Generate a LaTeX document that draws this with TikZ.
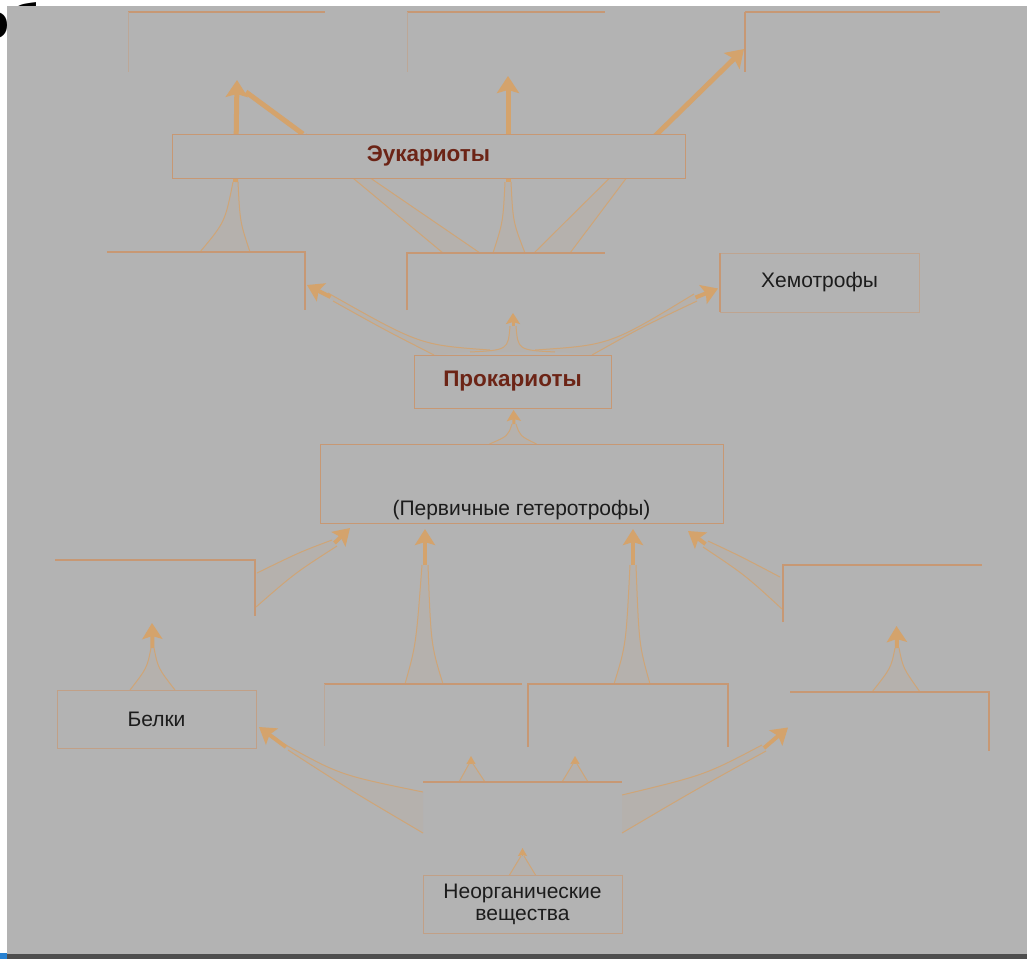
\documentclass[tikz,border=0pt]{standalone}
\usepackage{fontspec}
\setmainfont{Liberation Sans}
\usetikzlibrary{arrows.meta,calc}
\definecolor{bg}{RGB}{179,179,179}
\definecolor{boxc}{RGB}{199,152,116}
\definecolor{arrc}{RGB}{212,163,108}
\definecolor{titc}{RGB}{108,36,22}
\definecolor{txtc}{RGB}{28,28,28}
\definecolor{barc}{RGB}{78,78,78}
\definecolor{bluec}{RGB}{40,130,210}
\pgfdeclarelayer{back}
\pgfdeclarelayer{arrows}
\pgfsetlayers{back,arrows,main}
\newcommand{\warrow}[8]{%
  \fill[wfill] #2 .. controls #3 .. #4 -- #7 .. controls #6 .. #5 -- cycle;
  \draw[wedge] #2 .. controls #3 .. #4;
  \draw[wedge] #5 .. controls #6 .. #7;
  \draw[#1] ($#4!0.5!#7$) -- #8;
}
\begin{document}
\begin{tikzpicture}[x=1pt,y=-1pt,
  slot/.style={inner sep=0pt, outer sep=0pt},
  fullbox/.style={slot, draw=boxc, line width=1pt},
  edgeS/.style={draw=boxc, line width=1.1pt},
  edgeF/.style={draw=boxc!45!bg, line width=1pt},
  lbl/.style={inner sep=0pt, text=txtc, font=\fontsize{21}{24}\selectfont},
  ttl/.style={text=titc, font=\fontsize{22.5}{25}\selectfont\bfseries},
  wfill/.style={fill=arrc, fill opacity=0.07},
  wedge/.style={draw=arrc!85!bg, line width=1pt},
  bigarr/.style={draw=arrc, line width=5pt, -{Stealth[length=17pt,width=22pt,inset=3pt]}},
  midarr/.style={draw=arrc, line width=4pt, -{Stealth[length=16pt,width=20pt,inset=3pt]}},
  smallarr/.style={draw=arrc, line width=3pt, -{Stealth[length=11pt,width=14pt,inset=2pt]}},
  tinyarr/.style={draw=arrc, line width=1.5pt, -{Stealth[length=8pt,width=9pt,inset=1pt]}},
  stemonly/.style={draw=arrc, line width=5pt}
]
\useasboundingbox (0,0) rectangle (1027,959);

\begin{pgfonlayer}{back}
  \fill[white] (0,0) rectangle (1027,959);
  \node[anchor=base west, inner sep=0pt, font=\fontsize{49}{49}\selectfont\bfseries] (frag) at (-21,38) {об};
  \fill[bg] (7,6) rectangle (1027,954);
  \fill[barc] (7,954) rectangle (1027,959);
  \fill[bluec] (0,953) rectangle (7,959);
\end{pgfonlayer}

% ---- boxes ----
\node[slot, minimum width=197pt, minimum height=60pt] (tl) at (226.5,42) {};
\draw[edgeS] (tl.north west) -- (tl.north east);
\draw[edgeF] (tl.north west) -- (tl.south west);
\node[slot, minimum width=198pt, minimum height=60pt] (tm) at (506,42) {};
\draw[edgeS] (tm.north west) -- (tm.north east);
\draw[edgeF] (tm.north west) -- (tm.south west);
\node[slot, minimum width=195pt, minimum height=60pt] (tr) at (842.5,42) {};
\draw[edgeS] (tr.north west) -- (tr.north east);
\draw[edgeS] (tr.north west) -- (tr.south west);

\node[fullbox, fill=bg, minimum width=513pt, minimum height=44pt, ttl] (euk) at (428.5,156) {Эукариоты};

\node[slot, minimum width=198pt, minimum height=58pt] (ml2) at (206,281) {};
\draw[edgeS] (ml2.north west) -- (ml2.north east) -- (ml2.south east);
\node[slot, minimum width=198pt, minimum height=57pt] (mm) at (506,281.5) {};
\draw[edgeS] (mm.south west) -- (mm.north west) -- (mm.north east);
\node[slot, draw=boxc!55!bg, line width=1pt, minimum width=199pt, minimum height=59pt, lbl] (chem) at (819.5,282.5) {Хемотрофы};
\draw[edgeS] (chem.north west) -- (chem.south west);

\node[fullbox, minimum width=197pt, minimum height=53pt, ttl] (prok) at (512.5,381.5) {Прокариоты};

\node[fullbox, minimum width=403pt, minimum height=79pt] (perv) at (521.5,483.5) {};
\node[lbl] (pervt) at ($(perv.south)+(0,-13)$) {(Первичные гетеротрофы)};

\node[slot, minimum width=200pt, minimum height=56pt] (l3) at (155,588) {};
\draw[edgeS] (l3.north west) -- (l3.north east) -- (l3.south east);
\node[slot, minimum width=199pt, minimum height=57pt] (r3) at (882.5,593.5) {};
\draw[edgeS] (r3.south west) -- (r3.north west) -- (r3.north east);

\node[slot, draw=boxc!70!bg, line width=1pt, minimum width=199pt, minimum height=58pt, lbl] (belki) at (156.5,719) {Белки};
\node[slot, minimum width=198pt, minimum height=62pt] (c1) at (423,715) {};
\draw[edgeS] (c1.north west) -- (c1.north east);
\draw[edgeF] (c1.north west) -- (c1.south west);
\node[slot, minimum width=200pt, minimum height=63pt] (c2) at (628,715.5) {};
\draw[edgeS] (c2.south west) -- (c2.north west) -- (c2.north east) -- (c2.south east);
\node[slot, minimum width=199pt, minimum height=59pt] (r4) at (889.5,721.5) {};
\draw[edgeS] (r4.north west) -- (r4.north east) -- (r4.south east);

\node[slot, minimum width=199pt, minimum height=54pt] (org) at (522.5,809) {};
\draw[edgeS] (org.north west) -- (org.north east);
\node[fullbox, draw=boxc!70!bg, minimum width=199pt, minimum height=58pt, lbl, align=center, font=\fontsize{21}{22}\selectfont] (neorg) at (522.5,904) {Неорганические\\вещества};

% ---- connectors ----
\begin{pgfonlayer}{arrows}
\warrow{bigarr}{($(ml2.north west)+(93,0)$)}{(225,222)}{(233,182)}{($(ml2.north west)+(143,0)$)}{(240,222)}{(238,182)}{($(tl.south west)+(109,8)$)}
\warrow{stemonly}{($(mm.north west)+(36,0)$)}{(372,193)}{(300,134)}{($(mm.north west)+(73,0)$)}{(393,194)}{(306,134)}{($(tl.south west)+(118,20)$)}
\warrow{bigarr}{($(mm.north west)+(86,0)$)}{(503,222)}{(505,182)}{($(mm.north west)+(118,0)$)}{(513,222)}{(511,182)}{($(tm.south west)+(101,4)$)}
\warrow{bigarr}{($(mm.north west)+(127,0)$)}{(593,195)}{(652,136)}{($(mm.north west)+(163,0)$)}{(614,195)}{(658,136)}{($(tr.west)+(-1,7)$)}

\warrow{midarr}{($(prok.north west)+(20,0)$)}{(385,330)}{(333,301)}{($(prok.north west)+(76,-5)$)}{(420,345)}{(328,293)}{($(ml2.east)+(2,4)$)}
\warrow{smallarr}{($(prok.north west)+(56,-3)$)}{(508,350)}{(510,326)}{($(prok.north west)+(141,-3)$)}{(518,350)}{(516,326)}{($(mm.south)+(7,3)$)}
\warrow{midarr}{($(prok.north east)+(-19,0)$)}{(640,328)}{(697,301)}{($(prok.north west)+(121,-5)$)}{(610,345)}{(694,294)}{($(chem.west)+(-2,6)$)}

\warrow{smallarr}{($(perv.north)+(-32,0)$)}{(508,436)}{(512,424)}{($(perv.north)+(15,0)$)}{(520,436)}{(516,424)}{($(prok.south)+(1,2)$)}

\warrow{midarr}{($(c1.north west)+(81,0)$)}{(416,645)}{(422,565)}{($(c1.north west)+(119,0)$)}{(431,645)}{(428,565)}{($(perv.south west)+(105,6)$)}
\warrow{midarr}{($(c2.north west)+(86,0)$)}{(626,645)}{(630,565)}{($(c2.north west)+(122,0)$)}{(639,645)}{(636,565)}{($(perv.south west)+(313,6)$)}
\warrow{midarr}{($(l3.north east)+(2,13)$)}{(300,552)}{(332,540)}{($(l3.north east)+(1,47)$)}{(295,573)}{(337,546)}{($(perv.south west)+(30,5)$)}
\warrow{midarr}{($(r3.north west)+(-3,12)$)}{(740,556)}{(708,541)}{($(r3.north west)+(-1,44)$)}{(745,575)}{(703,547)}{($(perv.south east)+(-35,8)$)}

\warrow{midarr}{($(belki.north west)+(73,0)$)}{(147,668)}{(151,648)}{($(belki.north west)+(118,0)$)}{(158,668)}{(154,648)}{($(l3.south)+(-3,7)$)}
\warrow{midarr}{($(r4.north west)+(82,0)$)}{(891,668)}{(895,648)}{($(r4.north west)+(130,0)$)}{(903,668)}{(899,648)}{($(r3.south)+(14,4)$)}

\warrow{midarr}{($(org.north west)+(0,10)$)}{(340,775)}{(284,744)}{($(org.south west)+(0,-3)$)}{(350,790)}{(288,750)}{($(belki.east)+(3,8)$)}
\warrow{midarr}{($(org.north east)+(0,13)$)}{(705,775)}{(762,745)}{($(org.south east)+(0,-3)$)}{(695,790)}{(766,751)}{($(r4.west)+(-2,6)$)}

\warrow{tinyarr}{($(org.north west)+(36,0)$)}{(464,772)}{(469.5,763)}{($(org.north west)+(62,0)$)}{(479,772)}{(472.5,763)}{($(c1.south)+(48,10)$)}
\warrow{tinyarr}{($(org.north west)+(139,0)$)}{(568,772)}{(573.5,763)}{($(org.north west)+(165,0)$)}{(582,772)}{(576.5,763)}{($(c2.south)+(-53,9)$)}
\warrow{tinyarr}{($(neorg.north)+(-13,0)$)}{(515,865)}{(521,856)}{($(neorg.north)+(13,0)$)}{(530,865)}{(524,856)}{($(org.south)+(0,12)$)}
\end{pgfonlayer}
\end{tikzpicture}
\end{document}
